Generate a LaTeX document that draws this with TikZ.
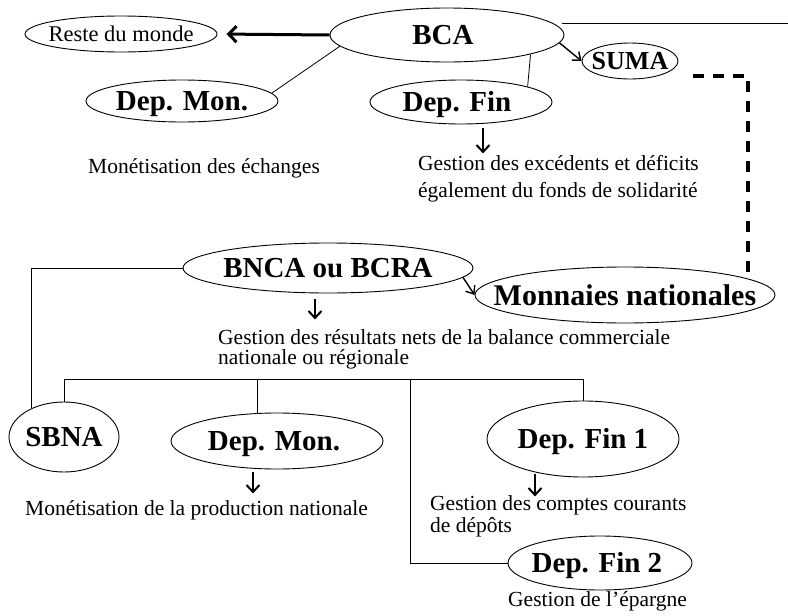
\documentclass[tikz,border=0pt]{standalone}
\usepackage{fontspec}
\setmainfont{Liberation Serif}
\usetikzlibrary{shapes.geometric,arrows.meta,calc}
\newcommand{\elbl}[1]{\makebox[0pt]{\smash{\raisebox{-0.34em}{#1}}}}
\newcommand{\twolines}[2]{\parbox[t]{#1}{\raggedright #2}}
\begin{document}
\begin{tikzpicture}[x=1pt,y=-1pt,
  ell/.style={ellipse,draw,line width=0.9pt,inner sep=0pt},
  bigb/.style={font=\fontsize{29}{32}\selectfont\bfseries},
  txt/.style={font=\fontsize{21.5}{27}\selectfont,inner sep=0pt,anchor=base west},
  conn/.style={line width=0.8pt},
  arr/.style={line width=2pt,-{Straight Barb[length=7pt,width=13pt]}},
  sarr/.style={line width=1.4pt,-{Straight Barb[length=7pt,width=11pt]}},
]
\useasboundingbox (0,0) rectangle (788,616);

% ellipses
\node[ell,minimum width=192pt,minimum height=36pt,font=\fontsize{22.5}{25}\selectfont] (reste) at (121,34) {\elbl{Reste du monde}};
\node[ell,minimum width=234pt,minimum height=54pt,bigb] (bca) at (447,35) {\elbl{\hspace*{-8pt}BCA}};
\node[ell,minimum width=96pt,minimum height=36pt,font=\fontsize{26}{28}\selectfont\bfseries] (suma) at (630,61) {\elbl{SUMA}};
\node[ell,minimum width=192pt,minimum height=42pt,bigb] (depmonA) at (182,101) {\elbl{Dep. Mon.}};
\node[ell,minimum width=182pt,minimum height=44pt,bigb] (depfinA) at (461,102) {\elbl{\hspace*{-8pt}Dep. Fin}};
\node[ell,minimum width=290pt,minimum height=50pt,font=\fontsize{29}{32}\selectfont\bfseries] (bnca) at (328,268) {\elbl{BNCA ou BCRA}};
\node[ell,minimum width=300pt,minimum height=56pt,font=\fontsize{30}{33}\selectfont\bfseries] (mon) at (625,295) {\elbl{Monnaies nationales}};
\node[ell,minimum width=110pt,minimum height=70pt,bigb] (sbna) at (64,437) {\elbl{SBNA}};
\node[ell,minimum width=212pt,minimum height=56pt,bigb] (depmonB) at (277,441) {\elbl{\hspace*{-6pt}Dep. Mon.}};
\node[ell,minimum width=192pt,minimum height=76pt,bigb] (fin1) at (583,439) {\elbl{Dep. Fin 1}};
\node[ell,minimum width=184pt,minimum height=54pt,bigb] (fin2) at (600,563) {\elbl{\hspace*{-6pt}Dep. Fin 2}};

% texts
\node[txt] (t1) at (88,173) {Monétisation des échanges};
\node[txt] (t2) at (418,170) {\twolines{400pt}{Gestion des excédents et déficits\\également du fonds de solidarité}};
\node[txt,font=\fontsize{21.5}{20}\selectfont] (t3) at (218,344) {\twolines{560pt}{Gestion des résultats nets de la balance commerciale\\nationale ou régionale}};
\node[txt] (t4) at (25,515) {Monétisation de la production nationale};
\node[txt,font=\fontsize{21.5}{22}\selectfont] (t5) at (430,510) {\twolines{400pt}{Gestion des comptes courants\\de dépôts}};
\node[txt] (t6) at (508,606) {Gestion de l’épargne};

% top connectors
\draw[line width=3pt,-{Straight Barb[length=8pt,width=16pt]},shorten >=9pt] (bca.west) -- (reste.east);
\draw[conn] (depmonA.5) -- (bca.186);
\draw[conn] (depfinA.13) -- (bca.-13);
\draw[sarr] (bca.-4) -- (suma.west);
\coordinate (rt) at (788,24);
\draw[conn,shorten <=8pt] (bca.6) -- (bca.6 -| rt);
\coordinate (d1) at (693,76);
\coordinate (d2) at (748,76);
\coordinate (d3) at (748,274);
\draw[line width=3.5pt,dash pattern=on 11pt off 9pt] (d1) -- (d2) -- (d3);
\draw[arr] ($(depfinA.south)+(22,4)$) -- ($(depfinA.south)+(22,29)$);

% middle connectors
\draw[sarr] (bnca.-4) -- (mon.west);
\draw[arr] ($(bnca.south)+(-13,6)$) -- ($(bnca.south)+(-13,26)$);
\draw[conn] (bnca.west) -- (bnca.west -| sbna.139) -- (sbna.139);

% bus
\coordinate (bus) at (410,379);
\draw[conn] (sbna.north) -- (sbna.north |- bus) -- (fin1.north |- bus) -- (fin1.north);
\draw[conn] (depmonB.125) -- (depmonB.125 |- bus);
\draw[conn] (bus) |- (fin2.west);

% bottom arrows
\draw[arr] ($(depmonB.south)+(-24,3)$) -- ($(depmonB.south)+(-24,24)$);
\draw[arr] ($(fin1.south)+(-48,-3)$) -- ($(fin1.south)+(-48,19)$);
\end{tikzpicture}
\end{document}
